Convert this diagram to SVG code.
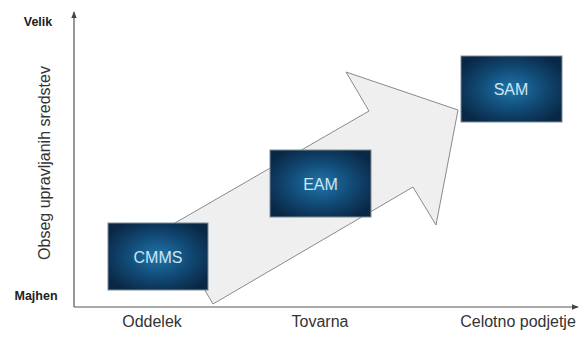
<svg xmlns="http://www.w3.org/2000/svg" width="586" height="340" viewBox="0 0 586 340">
<style>
.lbl{font-family:"Liberation Sans",Arial,sans-serif;font-size:16px;fill:#333}
.bold{font-family:"Liberation Sans",Arial,sans-serif;font-size:12.5px;font-weight:bold;fill:#222}
.box{fill:url(#bg);stroke:#7d8c99;stroke-width:1}
.bt{font-family:"Liberation Sans",Arial,sans-serif;font-size:16px;fill:#cfe5f4;text-anchor:middle}
.axis{stroke:#555;stroke-width:1.2;fill:none}
</style>
<defs>
<radialGradient id="bg" cx="50%" cy="50%" r="60%">
<stop offset="0" stop-color="#1f76ab"/>
<stop offset="0.55" stop-color="#114873"/>
<stop offset="1" stop-color="#0a2744"/>
</radialGradient>
<marker id="ah" viewBox="0 0 10 10" refX="9" refY="5" markerWidth="7" markerHeight="7" orient="auto" markerUnits="userSpaceOnUse">
<path d="M0,1 L10,5 L0,9 z" fill="#444"/>
</marker>
</defs>
<g id="connectors">
<path id="bigarrow" d="M168,227 L369,111 L346,72 L458,110 L436,225 L413,187 L213,304 Z" fill="#efefef" stroke="#8a8a8a" stroke-width="1"/>
<line class="axis" x1="74" y1="307" x2="74" y2="12" marker-end="url(#ah)"/>
<line class="axis" x1="74" y1="307" x2="578" y2="307" marker-end="url(#ah)"/>
</g>
<g id="labels">
<text class="bold" x="38" y="26" text-anchor="middle">Velik</text>
<text class="bold" x="36" y="300" text-anchor="middle">Majhen</text>
<text class="lbl" transform="translate(50,163) rotate(-90)" text-anchor="middle">Obseg upravljanih sredstev</text>
<text class="lbl" x="152" y="327" text-anchor="middle">Oddelek</text>
<text class="lbl" x="320" y="327" text-anchor="middle">Tovarna</text>
<text class="lbl" x="518" y="327" text-anchor="middle">Celotno podjetje</text>
</g>
<g id="cmms">
<rect class="box" x="108" y="223" width="100" height="67"/>
<text class="bt" x="158" y="263">CMMS</text>
</g>
<g id="eam">
<rect class="box" x="270" y="150" width="101" height="67"/>
<text class="bt" x="320.5" y="190">EAM</text>
</g>
<g id="sam">
<rect class="box" x="461" y="56" width="101" height="66"/>
<text class="bt" x="511" y="95">SAM</text>
</g>
</svg>
